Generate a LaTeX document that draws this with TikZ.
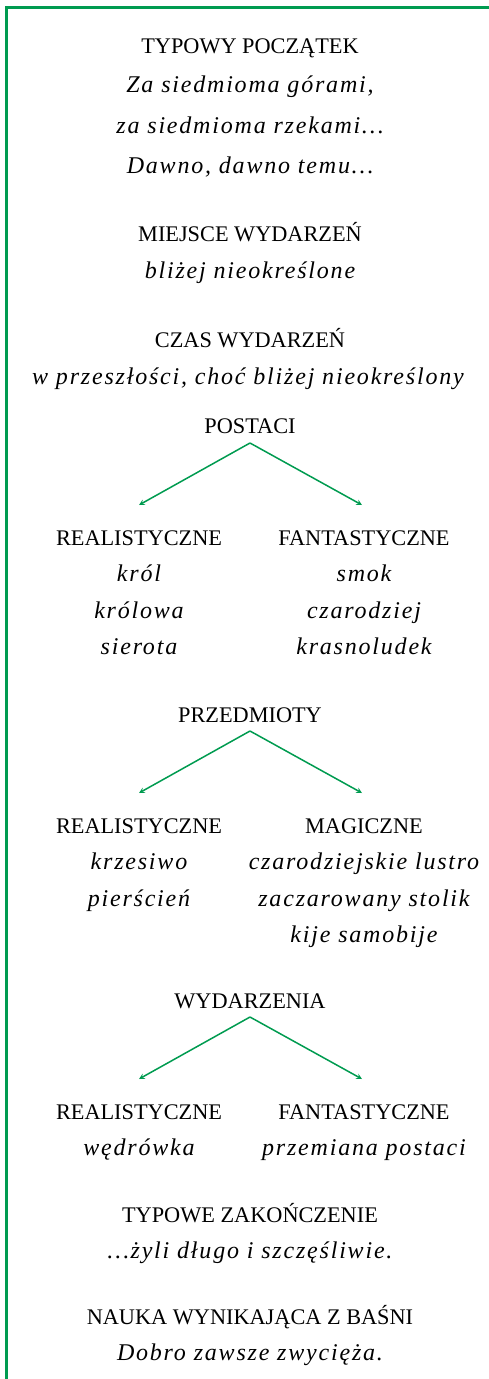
\documentclass[tikz,border=0pt]{standalone}
\usepackage{fontspec}
\setmainfont{Liberation Serif}[ItalicFeatures={LetterSpace=7.5}]
\definecolor{ramka}{RGB}{0,155,80}
\begin{document}
\begin{tikzpicture}[x=1pt, y=-1pt,
    head/.style={font=\fontsize{22.3}{26}\selectfont, inner sep=0pt, anchor=base},
    item/.style={font=\fontsize{24}{28}\selectfont\itshape, inner sep=0pt, anchor=base},
    arrow/.style={->, >=stealth, ramka, line width=1.5pt}]
\useasboundingbox (0,0) rectangle (489,1379);
% frame
\draw[ramka, line width=3pt] (6,1379) -- (6,7) -- (489,7);

% beginning
\node[head] (start) at (250,53) {TYPOWY POCZĄTEK};
\node[item] (start_a) at (250,92) {Za siedmioma górami,};
\node[item] (start_b) at (250,133) {za siedmioma rzekami\dots};
\node[item] (start_c) at (250,173) {Dawno, dawno temu\dots};

% place and time
\node[head] (place) at (250,241) {MIEJSCE WYDARZEŃ};
\node[item] (place_a) at (250,278) {bliżej nieokreślone};
\node[head] (time) at (250,347) {CZAS WYDARZEŃ};
\node[item] (time_a) at (248,384) {w przeszłości, choć bliżej nieokreślony};

% characters
\node[head] (chars) at (250,433) {POSTACI};
\coordinate (chars_top) at (250,443);
\coordinate (chars_l) at (139,505);
\coordinate (chars_r) at (362,505);
\draw[arrow] (chars_top) -- (chars_l);
\draw[arrow] (chars_top) -- (chars_r);
\node[head] (chars_real) at (139,545) {REALISTYCZNE};
\node[item] (chars_real_a) at (139,581) {król};
\node[item] (chars_real_b) at (139,618) {królowa};
\node[item] (chars_real_c) at (139,654) {sierota};
\node[head] (chars_fant) at (364,545) {FANTASTYCZNE};
\node[item] (chars_fant_a) at (364,581) {smok};
\node[item] (chars_fant_b) at (364,618) {czarodziej};
\node[item] (chars_fant_c) at (364,654) {krasnoludek};

% objects
\node[head] (objs) at (250,722) {PRZEDMIOTY};
\coordinate (objs_top) at (250,731);
\coordinate (objs_l) at (139,793);
\coordinate (objs_r) at (362,793);
\draw[arrow] (objs_top) -- (objs_l);
\draw[arrow] (objs_top) -- (objs_r);
\node[head] (objs_real) at (139,833) {REALISTYCZNE};
\node[item] (objs_real_a) at (139,869) {krzesiwo};
\node[item] (objs_real_b) at (139,906) {pierścień};
\node[head] (objs_mag) at (364,833) {MAGICZNE};
\node[item] (objs_mag_a) at (364,869) {czarodziejskie lustro};
\node[item] (objs_mag_b) at (364,906) {zaczarowany stolik};
\node[item] (objs_mag_c) at (364,942) {kije samobije};

% events
\node[head] (evts) at (250,1008) {WYDARZENIA};
\coordinate (evts_top) at (250,1017);
\coordinate (evts_l) at (139,1079);
\coordinate (evts_r) at (362,1079);
\draw[arrow] (evts_top) -- (evts_l);
\draw[arrow] (evts_top) -- (evts_r);
\node[head] (evts_real) at (139,1119) {REALISTYCZNE};
\node[item] (evts_real_a) at (139,1155) {wędrówka};
\node[head] (evts_fant) at (364,1119) {FANTASTYCZNE};
\node[item] (evts_fant_a) at (364,1155) {przemiana postaci};

% ending
\node[head] (end) at (250,1222) {TYPOWE ZAKOŃCZENIE};
\node[item] (end_a) at (250,1258) {\dots żyli długo i szczęśliwie.};
\node[head] (moral) at (250,1324) {NAUKA WYNIKAJĄCA Z BAŚNI};
\node[item] (moral_a) at (250,1360) {Dobro zawsze zwycięża.};
\end{tikzpicture}
\end{document}
